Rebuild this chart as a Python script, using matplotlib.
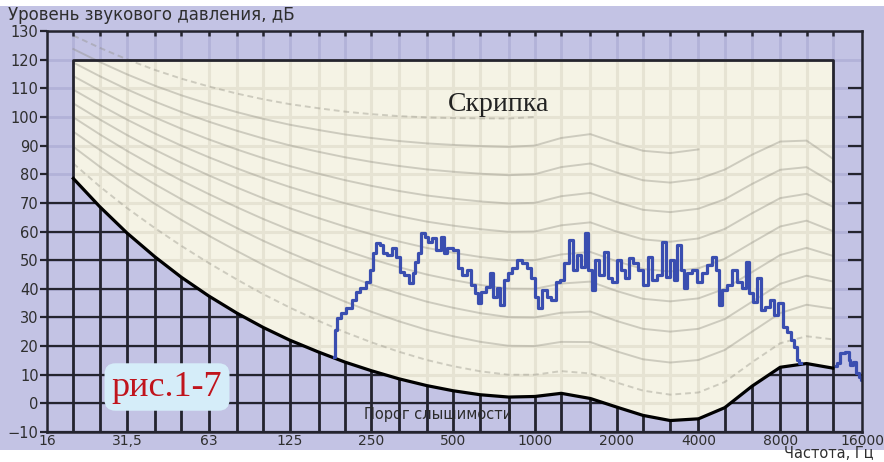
import matplotlib

matplotlib.use("Agg")
import matplotlib.pyplot as plt
import numpy as np
from matplotlib.patches import Polygon, Rectangle

LAV, CREAM, DARK = "#c3c3e4", "#f5f3e5", "#24242e"

# ISO 226:2003 table, third-octave bands 20 Hz .. 12.5 kHz
iso_freq = [20, 25, 31.5, 40, 50, 63, 80, 100, 125, 160, 200, 250, 315, 400, 500,
            630, 800, 1000, 1250, 1600, 2000, 2500, 3150, 4000, 5000, 6300, 8000,
            10000, 12500]
iso_af = [0.532, 0.506, 0.480, 0.455, 0.432, 0.409, 0.387, 0.367, 0.349, 0.330,
          0.315, 0.301, 0.288, 0.276, 0.267, 0.259, 0.253, 0.250, 0.246, 0.244,
          0.243, 0.243, 0.243, 0.242, 0.242, 0.245, 0.254, 0.271, 0.301]
iso_lu = [-31.6, -27.2, -23.0, -19.1, -15.9, -13.0, -10.3, -8.1, -6.2, -4.5, -3.1,
          -2.0, -1.1, -0.4, 0.0, 0.3, 0.5, 0.0, -2.7, -4.1, -1.0, 1.7, 2.5, 1.2,
          -2.1, -7.1, -11.2, -10.7, -3.1]
threshold_db = [78.5, 68.7, 59.5, 51.1, 44.0, 37.5, 31.5, 26.5, 22.1, 17.9, 14.4,
                11.4, 8.6, 6.2, 4.4, 3.0, 2.2, 2.4, 3.5, 1.7, -1.3, -4.2, -6.0, -5.4,
                -1.5, 6.0, 12.6, 13.9, 12.3]
phon_levels = [10, 20, 30, 40, 50, 60, 70, 80, 90, 100]
phon_top_freq = [12500, 12500, 12500, 12500, 12500, 12500, 12500, 12500, 4000, 1000]

grid_freq = [16] + iso_freq + [16000]
label_freq = [16, 31.5, 63, 125, 250, 500, 1000, 2000, 4000, 8000, 16000]
label_text = ["16", "31,5", "63", "125", "250", "500", "1000", "2000", "4000",
              "8000", "16000"]
y_ticks = list(range(-10, 131, 10))

# violin spectrum
violin_freq = [182, 185, 190, 198, 207, 216, 223, 233, 243, 250,
               256, 265, 272, 279, 291, 303, 314, 322, 336, 351,
               360, 366, 375, 388, 398, 409, 426, 441, 460, 464,
               484, 514, 527, 550, 574, 594, 610, 625, 647, 675,
               692, 710, 735, 754, 787, 807, 842, 879, 917, 949,
               990, 1016, 1042, 1087, 1124, 1173, 1224, 1256, 1311, 1367,
               1403, 1451, 1514, 1553, 1594, 1648, 1691, 1765, 1842, 1889,
               1971, 2040, 2093, 2183, 2240, 2337, 2439, 2545, 2655, 2746,
               2866, 2990, 3067, 3200, 3284, 3397, 3485, 3576, 3699, 3859,
               4026, 4203, 4384, 4576, 4693, 4814, 4981, 5198, 5424, 5659,
               5906, 6056, 6213, 6485, 6710, 6880, 7181, 7491, 7686, 8019,
               8296, 8659, 8883, 9110, 9269, 9509]
violin_db = [16.1, 25.5, 29.7, 31.4, 33.2, 36.0, 38.8, 40.2, 42.2, 46.4,
             52.4, 55.9, 55.2, 52.4, 51.7, 54.1, 51.0, 45.7, 44.7, 41.9,
             45.4, 49.2, 52.4, 59.4, 58.0, 56.2, 57.6, 53.4, 58.0, 52.4,
             54.1, 53.4, 47.1, 44.7, 46.4, 41.2, 38.4, 34.9, 38.8, 40.5,
             45.4, 37.0, 40.2, 34.2, 42.9, 45.4, 47.1, 49.9, 48.9, 47.1,
             43.6, 37.0, 33.2, 39.5, 37.0, 36.0, 42.2, 42.9, 48.9, 56.9,
             46.4, 51.7, 47.5, 59.4, 46.4, 39.5, 49.9, 44.7, 52.7, 43.6,
             42.2, 49.9, 46.4, 43.6, 50.6, 48.9, 46.4, 41.2, 51.0, 42.9,
             44.7, 56.2, 44.0, 49.9, 42.9, 55.2, 46.4, 40.2, 45.4, 46.4,
             42.2, 45.4, 48.2, 51.0, 46.4, 34.2, 39.5, 41.2, 46.4, 42.2,
             40.2, 49.2, 38.4, 35.3, 43.6, 32.5, 33.5, 36.0, 30.7, 34.9,
             26.5, 24.8, 22.0, 19.6, 15.0, 14.0]
violin_hi_freq = [12800, 13026, 13590, 14176, 14422, 14600, 15048, 15438, 15700, 15950]
violin_hi_db = [13.0, 14.0, 17.5, 17.8, 15.0, 13.3, 14.3, 10.5, 9.1, 8.0]


def iso_contour(phon):
    af, lu, tf = np.array(iso_af), np.array(iso_lu), np.array(threshold_db)
    a = 4.47e-3 * (10 ** (0.025 * phon) - 1.15) + (0.4 * 10 ** ((tf + lu) / 10 - 9)) ** af
    return 10 / af * np.log10(a) - lu + 94


W, H = 884, 462
fig = plt.figure(figsize=(W / 100, H / 100), dpi=100)
fig.patch.set_facecolor("white")
fig.add_artist(Rectangle((0, 12 / H), 1, 444 / H, transform=fig.transFigure,
                         fc=LAV, ec="none", zorder=0))
ax = fig.add_axes([47 / W, 30 / H, 815 / W, 401 / H])
ax.set_facecolor(LAV)
ax.set_xscale("log", base=2)
ax.set_xlim(16, 16000)
ax.set_ylim(-10, 130)

# faint grid everywhere (lavender parts above the threshold)
ax.hlines(y_ticks, 16, 16000, color="#b2b2d8", lw=2, zorder=0.5)
ax.vlines(grid_freq, -10, 130, color="#b2b2d8", lw=2, zorder=0.5)

# dark grid below the threshold of hearing
dark_verts = ([(16, -10), (16, threshold_db[0])] + list(zip(iso_freq, threshold_db))
              + [(16000, threshold_db[-1]), (16000, -10)])
dark_patch = Polygon(dark_verts, closed=True, transform=ax.transData)
hl = ax.hlines(y_ticks, 16, 16000, color=DARK, lw=1.6, zorder=1)
hl.set_clip_path(dark_patch)
ax.vlines(iso_freq[1:-1], -10, np.array(threshold_db[1:-1]) + 1.8, color=DARK,
          lw=2.0, zorder=1)

# hearing area
cream_verts = [(20, 120), (12500, 120)] + list(zip(iso_freq[::-1], threshold_db[::-1]))
cream = Polygon(cream_verts, closed=True, fc=CREAM, ec="none", zorder=2)
ax.add_patch(cream)
lg = ax.hlines(y_ticks, 16, 16000, color="#e6e3d3", lw=2.2, zorder=2.5)
lg.set_clip_path(cream)
lv = ax.vlines(grid_freq, -10, 130, color="#e6e3d3", lw=2.2, zorder=2.5)
lv.set_clip_path(cream)

f_arr = np.array(iso_freq)
for ph, ftop in zip(phon_levels, phon_top_freq):
    keep = f_arr <= ftop
    ls = (0, (3, 2)) if ph in (10, 100) else "-"
    ax.plot(f_arr[keep], iso_contour(ph)[keep], color="#8e8c80", alpha=0.38, lw=1.4,
            ls=ls, zorder=3)

ax.plot([20, 20, 12500, 12500], [-10, 120, 120, -10], color=DARK, lw=2, zorder=4)
ax.plot(iso_freq, threshold_db, color="black", lw=2.3, zorder=5)

# ticks on top and right edges
ax.vlines(iso_freq, 128.2, 130, color=DARK, lw=1.8, zorder=4)
ax.hlines(y_ticks[3:-2], 14200, 16000, color=DARK, lw=1.6, zorder=4)

ax.plot(violin_freq, violin_db, drawstyle="steps-mid", color="#3a4eb0", lw=2.3,
        zorder=6)
ax.plot(violin_hi_freq, violin_hi_db, drawstyle="steps-mid", color="#3a4eb0", lw=2.3,
        zorder=6)

for s in ax.spines.values():
    s.set_color(DARK)
    s.set_linewidth(1.8)
    s.set_zorder(7)
ax.set_yticks(y_ticks)
ax.set_xticks(label_freq, label_text)
ax.xaxis.set_minor_locator(matplotlib.ticker.NullLocator())
ax.tick_params(axis="y", direction="out", length=5, width=1.6, color=DARK, pad=1,
               labelsize=10.5, labelcolor="#2e2e2e")
ax.tick_params(axis="x", length=0, pad=1.5, labelsize=10, labelcolor="#2e2e2e")

ax.text(735, 104.4, "Скрипка", family="Liberation Serif", fontsize=20, color="#222222",
        ha="center", va="center", zorder=8)
ax.text(441, -3.8, "Порог слышимости", fontsize=10.5, color="#2b2b2b", ha="center",
        va="center", zorder=8)
fig.text(8 / W, 1 - 15 / H, "Уровень звукового давления, дБ", fontsize=12,
         color="#2e2e2e", ha="left", va="center")
fig.text(784 / W, 1 - 454 / H, "Частота, Гц", fontsize=10.5, color="#2e2e2e",
         ha="left", va="center")
fig.text(167 / W, 1 - 387 / H, "рис.1-7", family="Liberation Serif", fontsize=26,
         color="#c0141c", ha="center", va="center", zorder=10,
         bbox=dict(boxstyle="round,pad=0.2,rounding_size=0.3", fc="#d5edf9", ec="none"))

fig.savefig("out.png", dpi=100)
